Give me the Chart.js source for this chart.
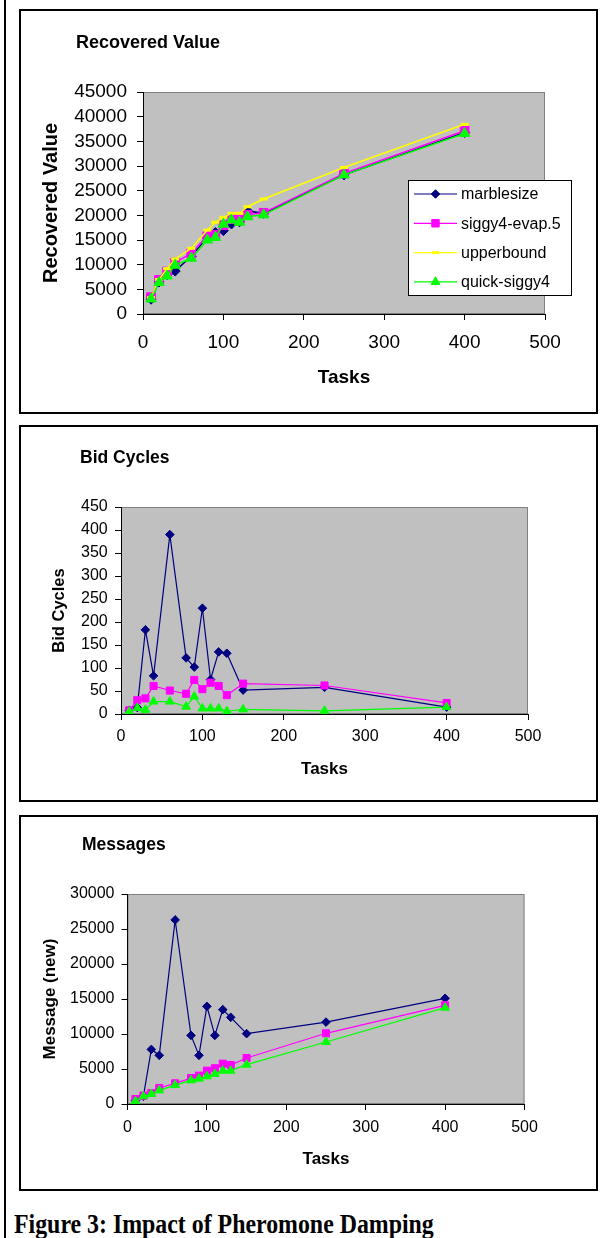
<!DOCTYPE html>
<html><head><meta charset="utf-8">
<script src="https://cdn.jsdelivr.net/npm/chart.js@4.4.0/dist/chart.umd.min.js"></script>
<style>
html,body{margin:0;padding:0;background:#fff;}
body{width:616px;height:1238px;position:relative;overflow:hidden;font-family:"Liberation Sans",Arial,sans-serif;}
.pageline{position:absolute;left:4px;top:0;width:2px;height:1238px;background:#000;}
.box{position:absolute;border:2px solid #000;box-sizing:border-box;pointer-events:none;}
canvas{position:absolute;}
#caption{position:absolute;left:14px;top:1211px;font-family:"Liberation Serif","Times New Roman",serif;font-weight:bold;font-size:26.5px;line-height:26.5px;white-space:nowrap;transform:scaleX(0.9);transform-origin:0 0;color:#000;}
</style></head><body>
<div class="pageline"></div>
<canvas id="c1" width="577" height="403" style="left:20px;top:10px"></canvas>
<div class="box" style="left:19px;top:9px;width:579px;height:405px"></div>
<canvas id="c2" width="577" height="375" style="left:20px;top:426px"></canvas>
<div class="box" style="left:19px;top:425px;width:579px;height:377px"></div>
<canvas id="c3" width="577" height="374" style="left:20px;top:816px"></canvas>
<div class="box" style="left:19px;top:815px;width:579px;height:376px"></div>
<div id="caption">Figure 3: Impact of Pheromone Damping</div>
<script>
// ---- data ----
const tasks = [10, 20, 30, 40, 60, 80, 90, 100, 110, 120, 130, 150, 250, 400];
const xTickValues = [0, 100, 200, 300, 400, 500];
const recoveredTicks = [0, 5000, 10000, 15000, 20000, 25000, 30000, 35000, 40000, 45000];
const bidTicks = [0, 50, 100, 150, 200, 250, 300, 350, 400, 450];
const msgTicks = [0, 5000, 10000, 15000, 20000, 25000, 30000];

const recMarblesize = [3000, 6500, 8000, 8700, 11700, 15500, 16500, 16900, 18250, 18700, 20900, 20400, 28200, 36800];
const recSiggy      = [3400, 6900, 8600, 10400, 12300, 15800, 16000, 18000, 19250, 19200, 20100, 20500, 28500, 37150];
const recUpper      = [3300, 7000, 9200, 11150, 13300, 17000, 18600, 19600, 20400, 20400, 21750, 23300, 29700, 38450];
const recQuick      = [3050, 6400, 7700, 9900, 11300, 15000, 15500, 18200, 19050, 18600, 19700, 20100, 28200, 36600];

const bidMarblesize = [8, 14, 183, 83, 390, 122, 102, 230, 75, 135, 132, 52, 58, 15];
const bidSiggy      = [8, 30, 34, 61, 51, 44, 74, 54, 68, 61, 41, 66, 62, 24];
const bidQuick      = [5, 13, 9, 27, 27, 16, 38, 12, 12, 12, 6, 10, 7, 15];

const msgMarblesize = [500, 1100, 7800, 6950, 26300, 9800, 6950, 13950, 9800, 13480, 12380, 10050, 11700, 15100];
const msgSiggy      = [700, 1200, 1570, 2290, 2950, 3700, 4050, 4760, 5100, 5760, 5570, 6570, 10100, 14100];
const msgQuick      = [400, 1100, 1430, 1950, 2700, 3380, 3620, 3950, 4290, 4760, 4760, 5620, 8860, 13760];

// ---- styles ----
Chart.defaults.font.family = '"Liberation Sans", Arial, Helvetica, sans-serif';
Chart.defaults.color = '#000';

const seriesStyle = {
  'marblesize':    {color: '#000080', pointStyle: 'rectRot', order: 4},
  'siggy4-evap.5': {color: '#FF00FF', pointStyle: 'rect', order: 3},
  'upperbound':    {color: '#FFFF00', pointStyle: 'line', order: 2},
  'quick-siggy4':  {color: '#00FF00', pointStyle: 'triangle', order: 1}
};
const radiusBig = {rectRot: 5, rect: 6.2, line: 4, triangle: 6};
const radiusSmall = {rectRot: 4.3, rect: 5, line: 4, triangle: 5};

function dataset(name, values, big) {
  const st = seriesStyle[name];
  const r = (big ? radiusBig : radiusSmall)[st.pointStyle];
  return {
    label: name,
    data: tasks.map((t, i) => ({x: t, y: values[i]})),
    borderColor: st.color, backgroundColor: st.color,
    borderWidth: big ? 1.5 : 1.2,
    pointStyle: st.pointStyle, pointRadius: r, pointHoverRadius: r,
    pointBackgroundColor: st.color, pointBorderColor: st.color,
    pointBorderWidth: st.pointStyle === 'line' ? 3 : 1,
    tension: 0, order: st.order
  };
}

const plotBg = {
  id: 'plotBg',
  beforeDraw(chart) {
    const a = chart.chartArea, ctx = chart.ctx;
    ctx.save();
    ctx.fillStyle = '#C0C0C0';
    ctx.fillRect(a.left, a.top, a.right - a.left, a.bottom - a.top);
    ctx.strokeStyle = '#808080';
    ctx.lineWidth = 1;
    ctx.strokeRect(a.left + 0.5, a.top + 0.5, a.right - a.left - 1, a.bottom - a.top - 1);
    ctx.restore();
  }
};
const titleShift = {
  id: 'titleShift',
  afterLayout(chart, args, opts) {
    if (chart.titleBlock && opts && opts.x !== undefined) chart.titleBlock.left = opts.x;
  }
};
const boxLegend = {
  id: 'boxLegend',
  afterDraw(chart, args, o) {
    if (!o || !o.display) return;
    const ctx = chart.ctx;
    ctx.save();
    ctx.fillStyle = '#fff';
    ctx.fillRect(o.x, o.y, o.w, o.h);
    ctx.strokeStyle = '#000';
    ctx.lineWidth = 1;
    ctx.strokeRect(o.x + 0.5, o.y + 0.5, o.w - 1, o.h - 1);
    chart.data.datasets.forEach((ds, i) => {
      const cy = o.y + o.first + i * o.gap;
      ctx.strokeStyle = ds.borderColor;
      ctx.lineWidth = 1.2;
      ctx.beginPath();
      ctx.moveTo(o.x + o.lx0, cy);
      ctx.lineTo(o.x + o.lx1, cy);
      ctx.stroke();
      const cx = o.x + (o.lx0 + o.lx1) / 2;
      ctx.fillStyle = ds.pointBackgroundColor;
      ctx.strokeStyle = ds.pointBorderColor;
      ctx.lineWidth = ds.pointBorderWidth;
      const r = ds.pointStyle === 'line' ? 3.5 : ds.pointRadius * 0.85;
      Chart.helpers.drawPoint(ctx, {pointStyle: ds.pointStyle, radius: r, rotation: 0, borderWidth: ds.pointBorderWidth}, cx, cy);
      ctx.fillStyle = '#000';
      ctx.font = o.font;
      ctx.textBaseline = 'middle';
      ctx.textAlign = 'left';
      ctx.fillText(ds.label, o.x + o.tx, cy + 1);
    });
    ctx.restore();
  }
};

function makeChart(id, cfg) {
  const tickSet = (arr) => (s) => { s.ticks = arr.map(v => ({value: v})); };
  return new Chart(document.getElementById(id), {
    type: 'line',
    data: {datasets: cfg.datasets},
    plugins: [plotBg, titleShift, boxLegend],
    options: {
      responsive: false, animation: false, devicePixelRatio: 1, events: [],
      layout: {padding: {left: 0, top: 0, right: cfg.padRight, bottom: 0}},
      plugins: {
        legend: {display: false}, tooltip: {enabled: false},
        title: {display: true, text: cfg.title, align: 'start', color: '#000',
                font: {size: cfg.titleFont, weight: 'bold'},
                padding: {top: cfg.titleTop, bottom: cfg.titleBottom}},
        titleShift: {x: cfg.titleX},
        boxLegend: cfg.legend || {display: false}
      },
      scales: {
        x: {
          type: 'linear', min: 0, max: 500,
          afterBuildTicks: tickSet(xTickValues),
          afterFit: (s) => { s.height = cfg.xHeight; },
          ticks: {font: {size: cfg.tickFont}, padding: cfg.xPad, maxRotation: 0, autoSkip: false, color: '#000', callback: v => String(v)},
          grid: {display: true, drawOnChartArea: false, drawTicks: true, tickLength: 6, color: '#000'},
          border: {display: true, color: '#000', width: 1},
          title: {display: true, text: 'Tasks', color: '#000', font: {size: cfg.xTitleFont, weight: 'bold'}, padding: {top: 0, bottom: cfg.xTitlePad}}
        },
        y: {
          type: 'linear', min: 0, max: cfg.yTicks[cfg.yTicks.length - 1],
          afterBuildTicks: tickSet(cfg.yTicks),
          afterFit: (s) => { s.width = cfg.yWidth; },
          ticks: {font: {size: cfg.tickFont}, padding: cfg.yPad, autoSkip: false, color: '#000', callback: v => String(v)},
          grid: {display: true, drawOnChartArea: false, drawTicks: true, tickLength: 6, color: '#000'},
          border: {display: true, color: '#000', width: 1},
          title: {display: true, text: cfg.yTitle, color: '#000', font: {size: cfg.yTitleFont, weight: 'bold'}, padding: {top: cfg.yTitlePad, bottom: 0}}
        }
      }
    }
  });
}

makeChart('c1', {
  datasets: [
    dataset('marblesize', recMarblesize, true),
    dataset('siggy4-evap.5', recSiggy, true),
    dataset('upperbound', recUpper, true),
    dataset('quick-siggy4', recQuick, true)
  ],
  title: 'Recovered Value', titleFont: 18, titleTop: 22.2, titleBottom: 38.2, titleX: 56,
  padRight: 52, yWidth: 123, xHeight: 99,
  tickFont: 19, xPad: 11.6, yPad: 10,
  xTitleFont: 19, xTitlePad: 23.6,
  yTitle: 'Recovered Value', yTitleFont: 20, yTitlePad: 19,
  yTicks: recoveredTicks,
  legend: {display: true, x: 388, y: 170, w: 164, h: 116, first: 14, gap: 29.3, lx0: 6, lx1: 49, tx: 53,
           font: '16px "Liberation Sans", Arial, sans-serif'}
});

makeChart('c2', {
  datasets: [
    dataset('marblesize', bidMarblesize, false),
    dataset('siggy4-evap.5', bidSiggy, false),
    dataset('quick-siggy4', bidQuick, false)
  ],
  title: 'Bid Cycles', titleFont: 17.5, titleTop: 21.5, titleBottom: 38.5, titleX: 60,
  padRight: 69, yWidth: 101, xHeight: 87,
  tickFont: 16, xPad: 7.4, yPad: 7.3,
  xTitleFont: 17, xTitlePad: 21.8,
  yTitle: 'Bid Cycles', yTitleFont: 16.5, yTitlePad: 30,
  yTicks: bidTicks
});

makeChart('c3', {
  datasets: [
    dataset('marblesize', msgMarblesize, false),
    dataset('siggy4-evap.5', msgSiggy, false),
    dataset('quick-siggy4', msgQuick, false)
  ],
  title: 'Messages', titleFont: 17.5, titleTop: 18.5, titleBottom: 38.5, titleX: 62,
  padRight: 72.5, yWidth: 107.5, xHeight: 86,
  tickFont: 16, xPad: 8.4, yPad: 7,
  xTitleFont: 17, xTitlePad: 20.8,
  yTitle: 'Message (new)', yTitleFont: 17, yTitlePad: 19.8,
  yTicks: msgTicks
});
</script>
</body></html>
